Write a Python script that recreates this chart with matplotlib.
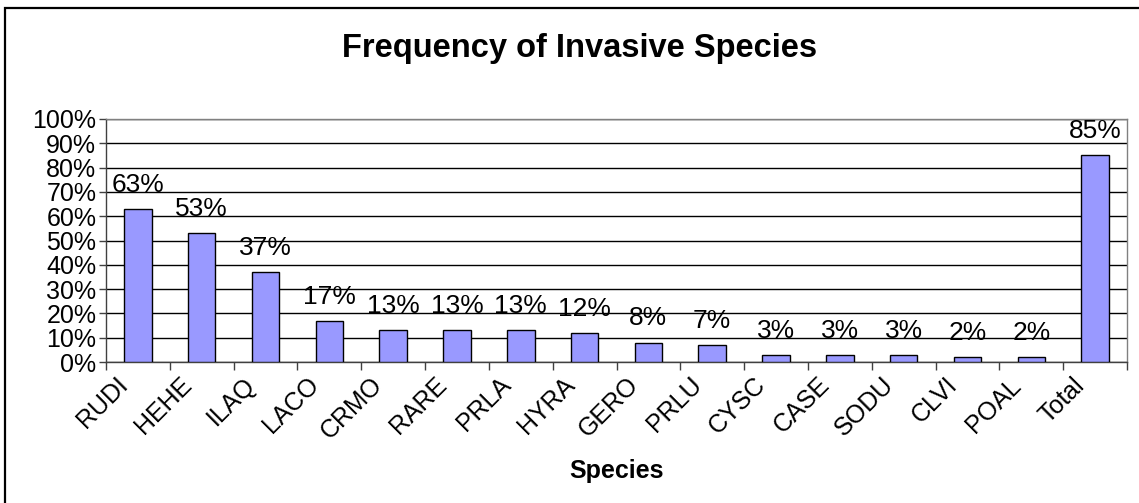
#!/usr/bin/env python

# Bar chart of invasive species frequency (share of plots where each species occurs)
import numpy as np
import matplotlib
matplotlib.use("Agg")
import matplotlib.pyplot as plt
from matplotlib.patches import Rectangle
from matplotlib.ticker import FixedLocator, PercentFormatter
from matplotlib.transforms import ScaledTranslation

# Species codes and their frequencies (percent)
species = ["RUDI", "HEHE", "ILAQ", "LACO", "CRMO", "RARE", "PRLA", "HYRA",
           "GERO", "PRLU", "CYSC", "CASE", "SODU", "CLVI", "POAL", "Total"]
frequency = [63, 53, 37, 17, 13, 13, 13, 12, 8, 7, 3, 3, 3, 2, 2, 85]

plt.rcParams["font.family"] = ["Liberation Sans", "DejaVu Sans"]

W, H = 1139, 503
fig = plt.figure(figsize=(W / 100, H / 100), dpi=100)

# Chart-area border (only the left and top edges fall inside the image)
fig.patches.append(Rectangle((5 / W, -0.1), 1.2, 1 - 8 / H + 0.1,
                             transform=fig.transFigure, fill=False,
                             edgecolor="black", linewidth=1.6))

ax = fig.add_axes([106 / W, 1 - 362 / H, (1127 - 106) / W, (362 - 119) / H])

x = np.arange(len(species))
bars = ax.bar(x, frequency, width=0.43, color="#9999FF",
              edgecolor="black", linewidth=1.0, zorder=3)

# Value labels above each bar
for xi, v in zip(x, frequency):
    ax.text(xi, v + 5.0, f"{v}%", ha="center", va="bottom", fontsize=19)

ax.set_xlim(-0.5, len(species) - 0.5)
ax.set_ylim(0, 100)

# Y axis: 0% .. 100% with black horizontal gridlines
ax.yaxis.set_major_locator(FixedLocator(np.arange(0, 101, 10)))
ax.yaxis.set_major_formatter(PercentFormatter(decimals=0))
ax.yaxis.grid(True, color="black", linewidth=1.0, zorder=0)
ax.tick_params(axis="y", direction="out", length=5, width=1,
               color="#404040", labelsize=18, pad=2)

# X axis: ticks between categories, labels at category centres
ax.set_xticks(np.arange(-0.5, len(species), 1.0))
ax.set_xticklabels([])
ax.set_xticks(x, minor=True)
ax.set_xticklabels(species, minor=True, rotation=45, ha="right",
                   va="center", rotation_mode="anchor", fontsize=18)
ax.tick_params(axis="x", which="major", direction="out", length=6,
               width=1, color="#404040")
ax.tick_params(axis="x", which="minor", length=0, pad=14)
shift = ScaledTranslation(-14 / 100, 0, fig.dpi_scale_trans)
for lbl in ax.get_xticklabels(minor=True):
    lbl.set_transform(lbl.get_transform() + shift)

for side in ["top", "right"]:
    ax.spines[side].set_color("#808080")
    ax.spines[side].set_linewidth(1.0)
for side in ["left", "bottom"]:
    ax.spines[side].set_color("#404040")
    ax.spines[side].set_linewidth(1.0)

ax.set_xlabel("Species", fontsize=18, fontweight="bold", labelpad=11)

fig.text(580 / W, 1 - 48 / H, "Frequency of Invasive Species",
         ha="center", va="center", fontsize=23.5, fontweight="bold")

plt.savefig("out.png", dpi=100)
